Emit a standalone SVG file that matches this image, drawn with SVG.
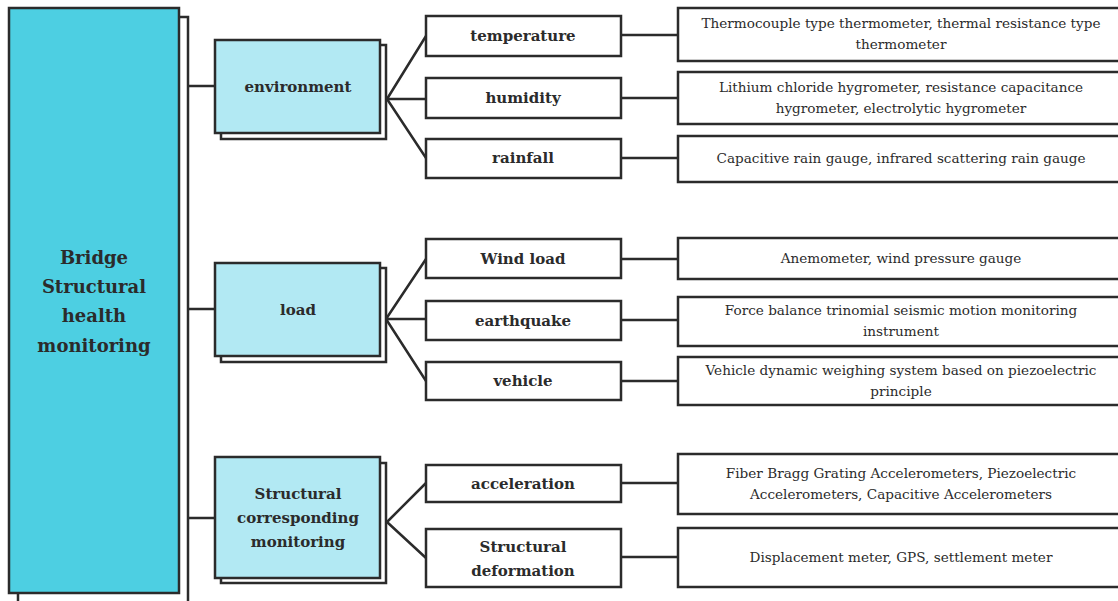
<svg xmlns="http://www.w3.org/2000/svg" width="1118" height="601" viewBox="0 0 1118 601" font-family="'DejaVu Serif', serif">
<style>
.s{fill:#fff;stroke:#2b2b2b;stroke-width:2.5}
.root{fill:#4dcfe2;stroke:#2b2b2b;stroke-width:2.5}
.mid{fill:#b2e9f3;stroke:#2b2b2b;stroke-width:2.5}
.box{fill:#fff;stroke:#2b2b2b;stroke-width:2.5}
.c{fill:none;stroke:#2b2b2b;stroke-width:2.5}
text{fill:#2b2b2b;text-anchor:middle}
.b{font-weight:bold}
.t1{font-size:18px}
.t2{font-size:15px}
.t3{font-size:15px}
.t4{font-size:13.6px}
</style>
<rect width="1118" height="601" fill="#fff"/>
<g id="connectors">
<path class="c" d="M188 86H215M188 309H215M188 518H215"/>
<path class="c" d="M387 99L426 36M387 99H426M387 99L426 158"/>
<path class="c" d="M386 319L426 259M386 319H426M386 319L426 381"/>
<path class="c" d="M387 522L426 483M387 522L426 558"/>
<path class="c" d="M621 35H678M621 98H678M621 158H678M621 259H678M621 320H678M621 381H678M621 483H678M621 557H678"/>
</g>
<g id="root">
<rect class="s" x="18" y="17" width="170" height="590"/>
<rect class="root" x="9" y="8" width="170" height="585"/>
<text class="b t1" x="94" y="264">Bridge</text>
<text class="b t1" x="94" y="293">Structural</text>
<text class="b t1" x="94" y="322">health</text>
<text class="b t1" x="94" y="352">monitoring</text>
</g>
<g id="environment">
<rect class="s" x="221" y="45" width="165" height="94"/>
<rect class="mid" x="215" y="40" width="165" height="93"/>
<text class="b t2" x="298" y="92">environment</text>
</g>
<g id="load">
<rect class="s" x="221" y="268" width="165" height="94"/>
<rect class="mid" x="215" y="263" width="165" height="93"/>
<text class="b t2" x="298" y="315">load</text>
</g>
<g id="structural">
<rect class="s" x="221" y="463" width="165" height="120"/>
<rect class="mid" x="215" y="457" width="165" height="121"/>
<text class="b t2" x="298" y="499">Structural</text>
<text class="b t2" x="298" y="523">corresponding</text>
<text class="b t2" x="298" y="547">monitoring</text>
</g>
<g id="temperature"><rect class="box" x="426" y="16" width="195" height="40"/><text class="b t3" x="523" y="41">temperature</text></g>
<g id="humidity"><rect class="box" x="426" y="78" width="195" height="40"/><text class="b t3" x="523" y="103">humidity</text></g>
<g id="rainfall"><rect class="box" x="426" y="139" width="195" height="39"/><text class="b t3" x="523" y="163">rainfall</text></g>
<g id="windload"><rect class="box" x="426" y="239" width="195" height="39"/><text class="b t3" x="523" y="264">Wind load</text></g>
<g id="earthquake"><rect class="box" x="426" y="301" width="195" height="39"/><text class="b t3" x="523" y="326">earthquake</text></g>
<g id="vehicle"><rect class="box" x="426" y="362" width="195" height="38"/><text class="b t3" x="523" y="386">vehicle</text></g>
<g id="acceleration"><rect class="box" x="426" y="465" width="195" height="37"/><text class="b t3" x="523" y="489">acceleration</text></g>
<g id="deformation"><rect class="box" x="426" y="529" width="195" height="58"/><text class="b t3" x="523" y="552">Structural</text><text class="b t3" x="523" y="576">deformation</text></g>
<g id="d-temperature"><rect class="box" x="678" y="8" width="450" height="53"/><text class="t4" x="901" y="28">Thermocouple type thermometer, thermal resistance type</text><text class="t4" x="901" y="49">thermometer</text></g>
<g id="d-humidity"><rect class="box" x="678" y="72" width="450" height="52"/><text class="t4" x="901" y="92">Lithium chloride hygrometer, resistance capacitance</text><text class="t4" x="901" y="113">hygrometer, electrolytic hygrometer</text></g>
<g id="d-rainfall"><rect class="box" x="678" y="136" width="450" height="46"/><text class="t4" x="901" y="163">Capacitive rain gauge, infrared scattering rain gauge</text></g>
<g id="d-wind"><rect class="box" x="678" y="238" width="450" height="41"/><text class="t4" x="901" y="263">Anemometer, wind pressure gauge</text></g>
<g id="d-earthquake"><rect class="box" x="678" y="297" width="450" height="49"/><text class="t4" x="901" y="315">Force balance trinomial seismic motion monitoring</text><text class="t4" x="901" y="336">instrument</text></g>
<g id="d-vehicle"><rect class="box" x="678" y="357" width="450" height="48"/><text class="t4" x="901" y="375">Vehicle dynamic weighing system based on piezoelectric</text><text class="t4" x="901" y="396">principle</text></g>
<g id="d-acceleration"><rect class="box" x="678" y="454" width="450" height="60"/><text class="t4" x="901" y="478">Fiber Bragg Grating Accelerometers, Piezoelectric</text><text class="t4" x="901" y="499">Accelerometers, Capacitive Accelerometers</text></g>
<g id="d-deformation"><rect class="box" x="678" y="528" width="450" height="59"/><text class="t4" x="901" y="562">Displacement meter, GPS, settlement meter</text></g>
</svg>
